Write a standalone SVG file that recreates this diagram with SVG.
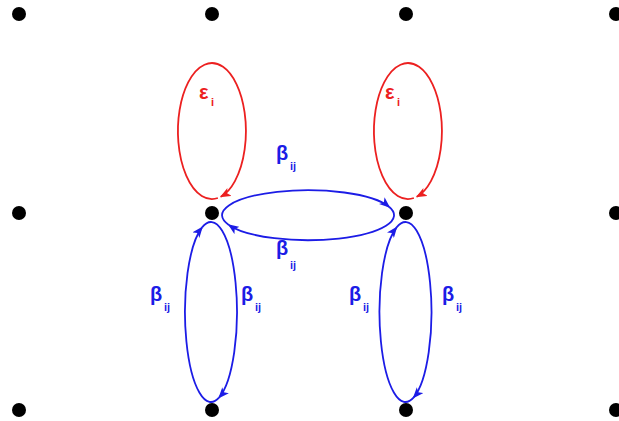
<svg xmlns="http://www.w3.org/2000/svg" width="619" height="421" viewBox="0 0 619 421">
<style>
.dot{fill:#000}
.r{fill:none;stroke:#ec2020;stroke-width:1.8}
.b{fill:none;stroke:#1c1ce6;stroke-width:1.8}
.tr{fill:#ec2020;font-family:"Liberation Sans",Arial,sans-serif;font-weight:bold}
.tb{fill:#1c1ce6;font-family:"Liberation Sans",Arial,sans-serif;font-weight:bold}
.big{font-size:20px}
.sub{font-size:11px}
</style>
<defs>
<marker id="ar" viewBox="0 0 10 8" refX="9" refY="4" markerWidth="11" markerHeight="9" markerUnits="userSpaceOnUse" orient="auto"><path d="M0,0 L10,4 L0,8 L2.5,4 z" fill="#ec2020"/></marker>
<marker id="ab" viewBox="0 0 10 8" refX="9" refY="4" markerWidth="11" markerHeight="9" markerUnits="userSpaceOnUse" orient="auto"><path d="M0,0 L10,4 L0,8 L2.5,4 z" fill="#1c1ce6"/></marker>
</defs>
<g id="nodes">
<circle id="n00" class="dot" cx="19" cy="14" r="7"/>
<circle id="n01" class="dot" cx="212" cy="14" r="7"/>
<circle id="n02" class="dot" cx="406" cy="14" r="7"/>
<circle id="n03" class="dot" cx="616" cy="14" r="7"/>
<circle id="n10" class="dot" cx="19" cy="213" r="7"/>
<circle id="n11" class="dot" cx="212" cy="213" r="7"/>
<circle id="n12" class="dot" cx="406" cy="213" r="7"/>
<circle id="n13" class="dot" cx="616" cy="213" r="7"/>
<circle id="n20" class="dot" cx="19" cy="410" r="7"/>
<circle id="n21" class="dot" cx="212" cy="410" r="7"/>
<circle id="n22" class="dot" cx="406" cy="410" r="7"/>
<circle id="n23" class="dot" cx="616" cy="410" r="7"/>
</g>
<g id="connectors">
<path class="r" marker-end="url(#ar)" d="M217.9,198 A34,68 0 1,1 220.8,196.7"/>
<path class="r" marker-end="url(#ar)" d="M413.9,198 A34,68 0 1,1 416.8,196.7"/>
<path class="b" marker-end="url(#ab)" d="M228.8,224.9 A86,25 0 1,1 389.3,207"/>
<path class="b" marker-end="url(#ab)" d="M389.3,207 A86,25 0 0,1 228.8,224.9"/>
<path class="b" marker-end="url(#ab)" d="M219,397.6 A26,90 0 0,1 202.1,227.4"/>
<path class="b" marker-end="url(#ab)" d="M202.1,227.4 A26,90 0 1,1 219,397.6"/>
<path class="b" marker-end="url(#ab)" d="M413.5,397.6 A26,90 0 0,1 396.6,227.4"/>
<path class="b" marker-end="url(#ab)" d="M396.6,227.4 A26,90 0 1,1 413.5,397.6"/>
</g>
<g id="labels">
<text class="tr big" x="199" y="99">ε</text><text class="tr sub" x="211" y="106">i</text>
<text class="tr big" x="385" y="99">ε</text><text class="tr sub" x="397" y="106">i</text>
<text class="tb big" x="276" y="160">β</text><text class="tb sub" x="290" y="170">ij</text>
<text class="tb big" x="276" y="255">β</text><text class="tb sub" x="290" y="269">ij</text>
<text class="tb big" x="150" y="301">β</text><text class="tb sub" x="164" y="311">ij</text>
<text class="tb big" x="241" y="301">β</text><text class="tb sub" x="255" y="311">ij</text>
<text class="tb big" x="349" y="301">β</text><text class="tb sub" x="363" y="311">ij</text>
<text class="tb big" x="442" y="301">β</text><text class="tb sub" x="456" y="311">ij</text>
</g>
</svg>
